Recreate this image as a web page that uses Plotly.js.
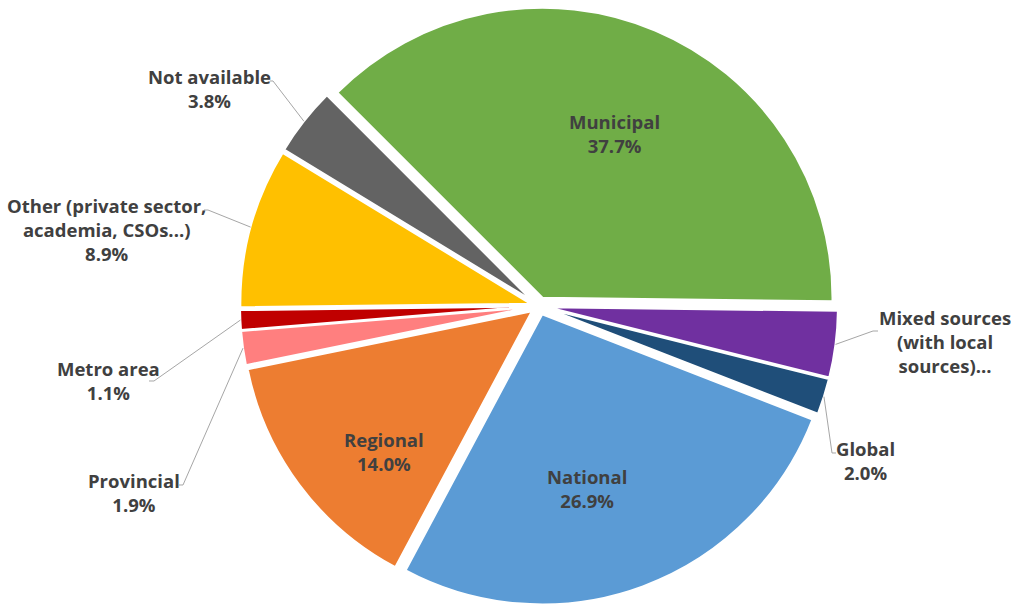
<!DOCTYPE html>
<html><head><meta charset="utf-8">
<script src="https://cdn.plot.ly/plotly-3.0.1.min.js"></script>
<style>html,body{margin:0;padding:0;background:#fff}#chart{width:1011px;height:605px}</style>
</head><body><div id="chart"></div>
<script>
// ---- data ----
const categories = ["Municipal", "Mixed sources (with local sources)...", "Global", "National", "Regional", "Provincial", "Metro area", "Other (private sector, academia, CSOs...)", "Not available"];
const labelLines = [["Municipal"], ["Mixed sources", "(with local", "sources)..."], ["Global"], ["National"], ["Regional"], ["Provincial"], ["Metro area"], ["Other (private sector,", "academia, CSOs...)"], ["Not available"]];
const shares = [37.7, 3.7, 2.0, 26.9, 14.0, 1.9, 1.1, 8.9, 3.8];
const showPct = [true, false, true, true, true, true, true, true, true];
const colors = ["#70AD47", "#7030A0", "#1F4E79", "#5B9BD5", "#ED7D31", "#FF7F7F", "#C00000", "#FFC000", "#636363"];

// ---- layout helpers (label placement, in px) ----
const W = 1011, H = 605;
const domX = [0.1375, 0.9288], domY = [0, 0.9884];
const pullAll = 0.031, rotation = -45;
// label centre positions (px) and leader elbows (px) ; null = no leader line
const labelPos = [[614, 134], [945, 341], [865, 460], [587, 488], [384, 451], [134, 492], [108, 380], [106, 229], [209, 88]];
const elbows = [null, [[873, 331], [878, 331]], [[832, 453], [836, 453]], null, null, [[183, 485], [179, 485]], [[154, 381], [149, 381]], [[208, 210], [204, 210]], [[273, 81], [270, 81]]];

const boxW = W * (domX[1] - domX[0]), boxH = H * (domY[1] - domY[0]);
const R = Math.min(boxW, boxH) / (2 + 2 * pullAll);
const CX = W * (domX[0] + domX[1]) / 2, CY = H * (1 - domY[0]) - boxH / 2;
const total = shares.reduce((a, b) => a + b, 0);
const px = x => x / W, py = y => 1 - y / H;

const annotations = [], shapes = [];
let acc = rotation;
shares.forEach((v, i) => {
  const span = v / total * 360;
  const mid = (acc + span / 2) * Math.PI / 180;
  acc += span;
  const txt = labelLines[i].join("<br>") + (showPct[i] ? "<br>" + v.toFixed(1) + "%" : "");
  annotations.push({
    x: px(labelPos[i][0]), y: py(labelPos[i][1]), xref: "paper", yref: "paper",
    xanchor: "center", yanchor: "middle", showarrow: false, text: txt,
    font: {family: "Open Sans", size: 18.5, color: "#404040", weight: 700}
  });
  if (elbows[i]) {
    const rr = R * (1 + pullAll);
    const sx = CX + rr * Math.sin(mid), sy = CY - rr * Math.cos(mid);
    const pts = [[sx, sy]].concat(elbows[i]);
    const path = pts.map((p, k) => (k ? "L" : "M") + px(p[0]).toFixed(5) + "," + py(p[1]).toFixed(5)).join(" ");
    shapes.push({type: "path", xref: "paper", yref: "paper", path: path, line: {color: "#A6A6A6", width: 1}});
  }
});

const trace = {
  type: "pie", labels: categories, values: shares, sort: false, direction: "clockwise",
  rotation: rotation, pull: shares.map(() => pullAll),
  marker: {colors: colors, line: {color: "#FFFFFF", width: 2}},
  textinfo: "none", hoverinfo: "none", showlegend: false,
  domain: {x: domX, y: domY}
};
Plotly.newPlot("chart", [trace], {
  width: W, height: H, margin: {l: 0, r: 0, t: 0, b: 0},
  paper_bgcolor: "#fff", showlegend: false, annotations: annotations, shapes: shapes
}, {staticPlot: true});
</script></body></html>
